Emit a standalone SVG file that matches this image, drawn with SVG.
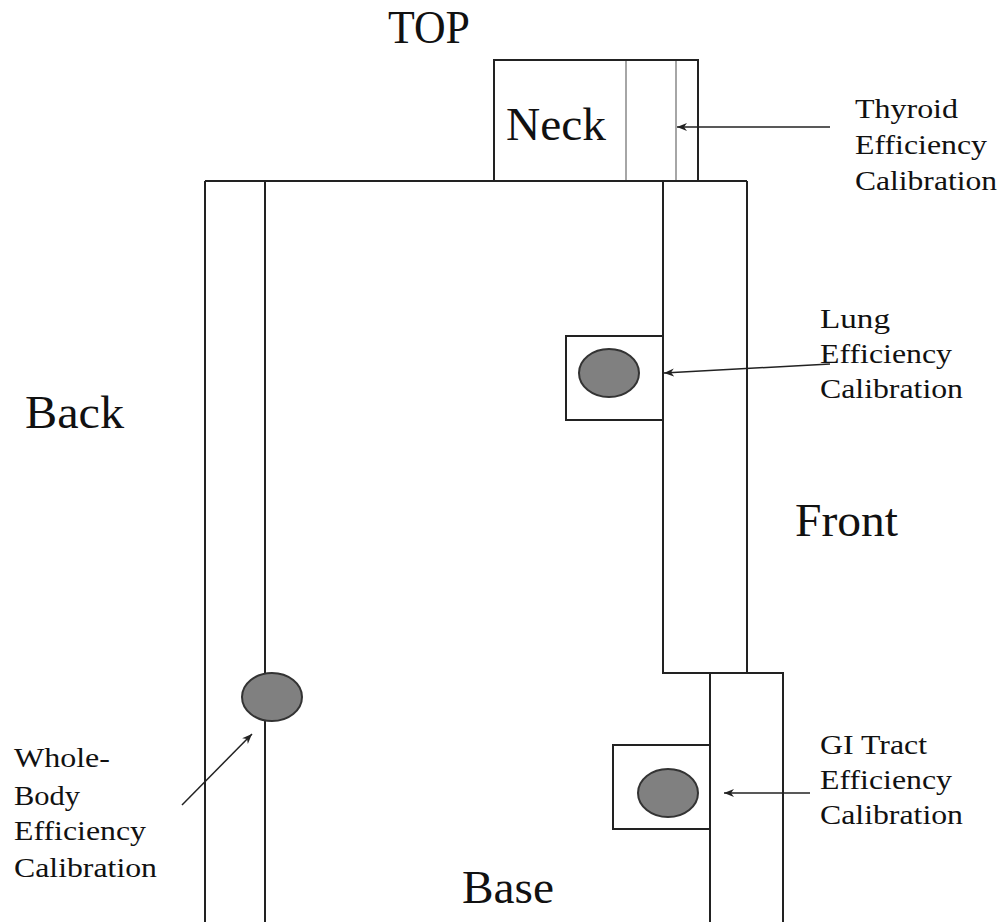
<svg xmlns="http://www.w3.org/2000/svg" width="1004" height="922" viewBox="0 0 1004 922">
<style>
.ln{stroke:#222;stroke-width:2;fill:none}
.gr{stroke:#888;stroke-width:1.5;fill:none}
.bx{stroke:#222;stroke-width:2;fill:#fff}
.dot{fill:#808080;stroke:#333;stroke-width:2}
.ar{stroke:#222;stroke-width:1.5;fill:none;marker-end:url(#ah)}
.big{font-family:"Liberation Serif","Times New Roman",serif;font-size:46px;fill:#111}
.lbl{font-family:"Liberation Serif","Times New Roman",serif;font-size:28px;fill:#111}
</style>
<defs>
<marker id="ah" markerWidth="11" markerHeight="9" refX="10" refY="4.5" orient="auto" markerUnits="userSpaceOnUse">
<path d="M0,0.5 L10,4.5 L0,8.5 L3,4.5 Z" fill="#222"/>
</marker>
</defs>
<rect width="1004" height="922" fill="#fff"/>
<g id="body">
<line class="ln" x1="205" y1="181" x2="747" y2="181"/>
<line class="ln" x1="205" y1="181" x2="205" y2="922"/>
<line class="ln" x1="265" y1="181" x2="265" y2="922"/>
<polyline class="ln" points="663,181 663,673 783,673 783,922"/>
<line class="ln" x1="747" y1="181" x2="747" y2="673"/>
<line class="ln" x1="710" y1="673" x2="710" y2="922"/>
</g>
<g id="neck">
<rect class="bx" x="494" y="60" width="204" height="121"/>
<line class="gr" x1="626" y1="61" x2="626" y2="180"/>
<line class="gr" x1="676" y1="61" x2="676" y2="180"/>
<text class="big" x="506" y="140" textLength="100" lengthAdjust="spacingAndGlyphs">Neck</text>
</g>
<g id="lung">
<rect class="bx" x="566" y="336" width="97" height="84"/>
<ellipse class="dot" cx="609" cy="373" rx="30" ry="24"/>
</g>
<g id="gi">
<rect class="bx" x="613" y="745" width="97" height="84"/>
<ellipse class="dot" cx="668" cy="793" rx="30" ry="24"/>
</g>
<g id="wholebody">
<ellipse class="dot" cx="272" cy="697" rx="30" ry="24"/>
</g>
<g id="connectors">
<line class="ar" x1="830" y1="127" x2="677" y2="127"/>
<line class="ar" x1="830" y1="364" x2="664" y2="373"/>
<line class="ar" x1="810" y1="793" x2="724" y2="793"/>
<line class="ar" x1="182" y1="805" x2="252" y2="734"/>
</g>
<g id="labels">
<text class="big" x="388" y="43" font-size="44" textLength="82" lengthAdjust="spacingAndGlyphs">TOP</text>
<text class="big" x="25" y="428" textLength="99" lengthAdjust="spacingAndGlyphs">Back</text>
<text class="big" x="795" y="536" textLength="103" lengthAdjust="spacingAndGlyphs">Front</text>
<text class="big" x="462" y="903" textLength="92" lengthAdjust="spacingAndGlyphs">Base</text>
<text class="lbl" x="855" y="118" textLength="103" lengthAdjust="spacingAndGlyphs">Thyroid</text>
<text class="lbl" x="855" y="154" textLength="132" lengthAdjust="spacingAndGlyphs">Efficiency</text>
<text class="lbl" x="855" y="190" textLength="142" lengthAdjust="spacingAndGlyphs">Calibration</text>
<text class="lbl" x="820" y="328" textLength="70" lengthAdjust="spacingAndGlyphs">Lung</text>
<text class="lbl" x="820" y="363" textLength="132" lengthAdjust="spacingAndGlyphs">Efficiency</text>
<text class="lbl" x="820" y="398" textLength="143" lengthAdjust="spacingAndGlyphs">Calibration</text>
<text class="lbl" x="820" y="754" textLength="107" lengthAdjust="spacingAndGlyphs">GI Tract</text>
<text class="lbl" x="820" y="789" textLength="132" lengthAdjust="spacingAndGlyphs">Efficiency</text>
<text class="lbl" x="820" y="824" textLength="143" lengthAdjust="spacingAndGlyphs">Calibration</text>
<text class="lbl" x="14" y="767" textLength="96" lengthAdjust="spacingAndGlyphs">Whole-</text>
<text class="lbl" x="14" y="805" textLength="66" lengthAdjust="spacingAndGlyphs">Body</text>
<text class="lbl" x="14" y="840" textLength="132" lengthAdjust="spacingAndGlyphs">Efficiency</text>
<text class="lbl" x="14" y="877" textLength="143" lengthAdjust="spacingAndGlyphs">Calibration</text>
</g>
</svg>
